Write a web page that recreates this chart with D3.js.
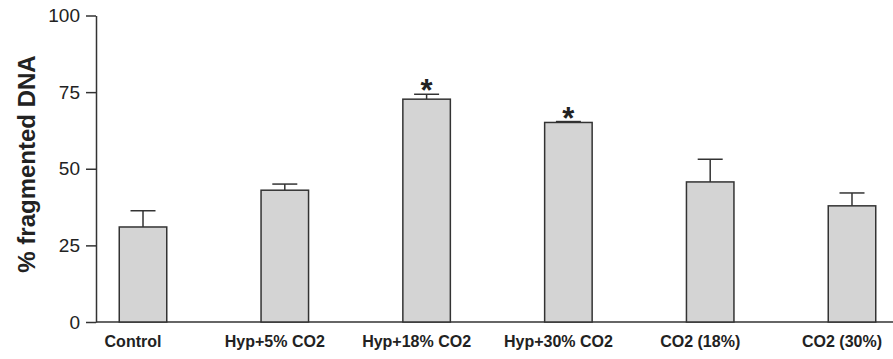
<!DOCTYPE html>
<html>
<head>
<meta charset="UTF-8">
<script src="https://cdn.jsdelivr.net/npm/d3@7"></script>
<style>
body { margin: 0; background: #fff; }
svg { display: block; font-family: "Liberation Sans", Arial, sans-serif; }
.bar { fill: #d4d4d4; stroke: #333; stroke-width: 1.5; }
.err { stroke: #333; stroke-width: 1.5; fill: none; }
.axis path, .axis line { stroke: #333; stroke-width: 1.5; }
.axis text { fill: #222; }
</style>
</head>
<body>
<div id="chart"></div>
<script>
const groups = ["Control", "Hyp+5% CO2", "Hyp+18% CO2", "Hyp+30% CO2", "CO2 (18%)", "CO2 (30%)"];
const means = [31, 43, 72.7, 65.1, 45.7, 37.9];
const errors = [5.3, 2, 1.6, 0.3, 7.4, 4.2];
const marks = ["", "", "*", "*", "", ""];
const yTicks = [0, 25, 50, 75, 100];

const width = 893, height = 359;
const margin = {left: 96, top: 15.5, bottom: 322};

const svg = d3.select("#chart").append("svg")
    .attr("width", width)
    .attr("height", height);

const x = d3.scaleBand()
    .domain(groups)
    .range([margin.left, 899])
    .paddingInner(0.665)
    .paddingOuter(0.164);

const y = d3.scaleLinear()
    .domain([0, 100])
    .range([margin.bottom, margin.top]);

const data = groups.map((g, i) => ({g: g, v: means[i], e: errors[i], m: marks[i]}));

// axe Y
svg.append("g")
    .attr("class", "axis")
    .attr("transform", "translate(" + margin.left + ",0)")
    .call(d3.axisLeft(y).tickValues(yTicks).tickSize(10).tickPadding(6).tickSizeOuter(0))
    .selectAll("text")
    .style("font-size", "19px");

// axe X (ligne seulement + libellés)
const xa = svg.append("g")
    .attr("class", "axis")
    .attr("transform", "translate(0," + margin.bottom + ")")
    .call(d3.axisBottom(x).tickSize(0).tickPadding(14).tickSizeOuter(0));
xa.select(".domain").attr("d", "M" + margin.left + ",0H" + width);
xa.selectAll("text")
    .attr("dx", -10)
    .style("font-size", "16px")
    .style("font-weight", "bold");

// barres d'erreur
svg.selectAll(".errv")
    .data(data)
    .enter().append("line")
    .attr("class", "err")
    .attr("x1", d => x(d.g) + x.bandwidth() / 2)
    .attr("x2", d => x(d.g) + x.bandwidth() / 2)
    .attr("y1", d => y(d.v))
    .attr("y2", d => y(d.v + d.e));

svg.selectAll(".errc")
    .data(data)
    .enter().append("line")
    .attr("class", "err")
    .attr("x1", d => x(d.g) + x.bandwidth() / 2 - 12.5)
    .attr("x2", d => x(d.g) + x.bandwidth() / 2 + 12.5)
    .attr("y1", d => y(d.v + d.e))
    .attr("y2", d => y(d.v + d.e));

// barres
svg.selectAll(".bar")
    .data(data)
    .enter().append("rect")
    .attr("class", "bar")
    .attr("x", d => x(d.g))
    .attr("width", x.bandwidth())
    .attr("y", d => y(d.v))
    .attr("height", d => y(0) - y(d.v));

// astérisques
svg.selectAll(".star")
    .data(data.filter(d => d.m))
    .enter().append("text")
    .attr("x", d => x(d.g) + x.bandwidth() / 2)
    .attr("y", d => y(d.v + d.e) + 7)
    .attr("text-anchor", "middle")
    .style("font-size", "31px")
    .style("font-weight", "bold")
    .style("fill", "#222")
    .text(d => d.m);

// titre axe Y
svg.append("text")
    .attr("transform", "translate(35," + 164 + ") rotate(-90)")
    .attr("text-anchor", "middle")
    .style("font-size", "24px")
    .style("font-weight", "bold")
    .style("fill", "#222")
    .text("% fragmented DNA");
</script>
</body>
</html>
